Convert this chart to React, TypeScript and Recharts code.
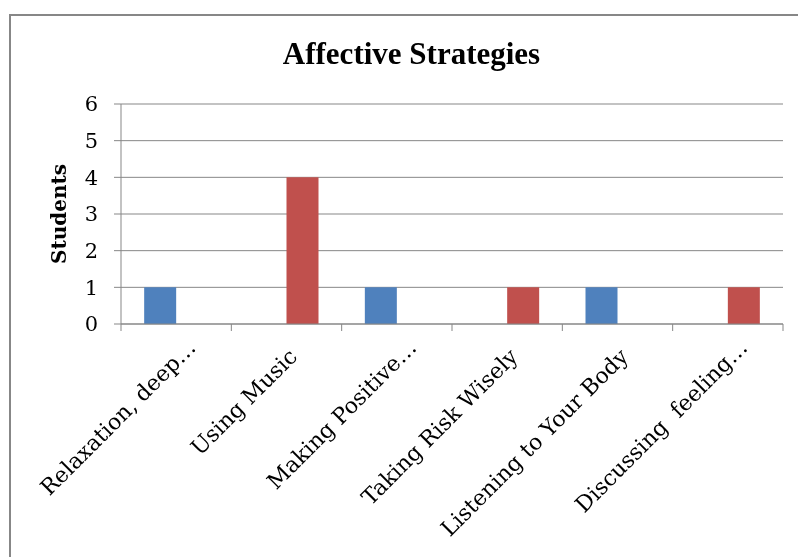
import { Bar, BarChart, CartesianGrid, XAxis, YAxis } from 'recharts';

const categories = [
  'Relaxation, deep…',
  'Using Music',
  'Making Positive…',
  'Taking Risk Wisely',
  'Listening to Your Body',
  'Discussing  feeling…',
];
const blueValues = [1, 0, 1, 0, 1, 0];
const redValues = [0, 4, 0, 1, 0, 1];
const yTicks = [0, 1, 2, 3, 4, 5, 6];

const chartData = categories.map((name, i) => ({
  name,
  blue: blueValues[i],
  red: redValues[i],
}));

const WIDTH = 782;
const HEIGHT = 541;
const MARGIN = { top: 96, right: 7, left: 53, bottom: 25 };
const Y_AXIS_WIDTH = 60;
const PLOT_WIDTH = WIDTH - MARGIN.left - MARGIN.right - Y_AXIS_WIDTH;
const BAND = PLOT_WIDTH / categories.length;
const GREY = '#878787';
const SERIF = '"DejaVu Serif", serif';

function CategoryTick(props: any) {
  const { x, y, payload, index } = props;
  const label: string = payload.value;
  const shift = label.endsWith('…') ? 9 : 0;
  const tx = x + 12 + shift;
  const ty = y + 34 - shift;
  return (
    <g>
      <line x1={x - BAND / 2} y1={y} x2={x - BAND / 2} y2={y + 7} stroke={GREY} />
      {index === categories.length - 1 && (
        <line x1={x + BAND / 2} y1={y} x2={x + BAND / 2} y2={y + 7} stroke={GREY} />
      )}
      <text
        transform={`translate(${tx},${ty}) rotate(-45)`}
        textAnchor="end"
        fontFamily={SERIF}
        fontSize={22}
        fill="#000"
        style={{ whiteSpace: 'pre' }}
      >
        {label}
      </text>
    </g>
  );
}

function StudentsLabel(props: any) {
  const { viewBox } = props;
  const cx = viewBox.x - 2;
  const cy = viewBox.y + viewBox.height / 2;
  return (
    <text
      x={cx}
      y={cy}
      transform={`rotate(-90 ${cx} ${cy})`}
      textAnchor="middle"
      dominantBaseline="central"
      fontFamily={SERIF}
      fontWeight="bold"
      fontSize={20}
      fill="#000"
    >
      Students
    </text>
  );
}

function App() {
  return (
    <div style={{ position: 'relative', width: WIDTH, height: HEIGHT }}>
      {/* outer chart-area frame, runs off the right and bottom of the page */}
      <div
        style={{
          position: 'fixed',
          left: 9,
          top: 14,
          width: 1000,
          height: 1000,
          borderLeft: `2px solid ${GREY}`,
          borderTop: `2px solid ${GREY}`,
        }}
      />
      <div
        style={{
          position: 'absolute',
          left: 0,
          width: 807,
          top: 28,
          textAlign: 'center',
          fontFamily: '"Liberation Serif", serif',
          fontWeight: 'bold',
          fontSize: 31,
          lineHeight: '36px',
          color: '#000',
        }}
      >
        Affective Strategies
      </div>
      <BarChart
        width={WIDTH}
        height={HEIGHT}
        data={chartData}
        margin={MARGIN}
        barCategoryGap="21%"
        barGap={0}
        style={{ position: 'absolute', left: 0, top: 0 }}
      >
        <CartesianGrid vertical={false} stroke={GREY} strokeWidth={1} />
        <XAxis
          dataKey="name"
          height={200}
          interval={0}
          axisLine={{ stroke: GREY }}
          tickLine={false}
          tickSize={0}
          tickMargin={0}
          tick={<CategoryTick />}
        />
        <YAxis
          width={Y_AXIS_WIDTH}
          domain={[0, 6]}
          ticks={yTicks}
          interval={0}
          axisLine={{ stroke: GREY }}
          tickLine={{ stroke: GREY }}
          tickSize={7}
          tickMargin={16}
          tick={{ fontFamily: SERIF, fontSize: 21, fill: '#000' }}
          label={<StudentsLabel />}
        />
        <Bar dataKey="blue" name="Series1" fill="#4F81BD" isAnimationActive={false} />
        <Bar dataKey="red" name="Series2" fill="#C0504D" isAnimationActive={false} />
      </BarChart>
    </div>
  );
}

export default App;
